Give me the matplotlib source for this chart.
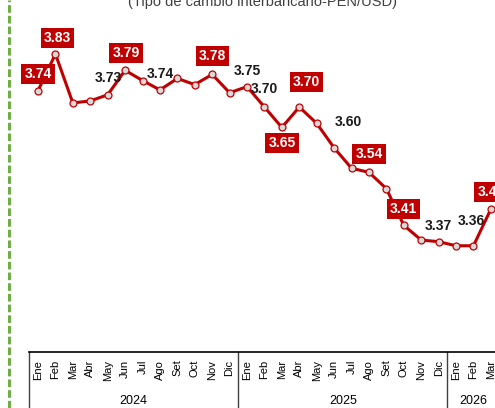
import matplotlib
matplotlib.use("Agg")
import matplotlib.pyplot as plt
from matplotlib.lines import Line2D
from matplotlib.transforms import offset_copy

plt.rcParams['font.family'] = ['Liberation Sans', 'DejaVu Sans']

# Datos (tipo de cambio mensual)
meses = ['Ene', 'Feb', 'Mar', 'Abr', 'May', 'Jun', 'Jul', 'Ago', 'Set', 'Oct', 'Nov', 'Dic',
         'Ene', 'Feb', 'Mar', 'Abr', 'May', 'Jun', 'Jul', 'Ago', 'Set', 'Oct', 'Nov', 'Dic',
         'Ene', 'Feb', 'Mar']
anios = ['2024', '2025', '2026']
meses_por_anio = [12, 12, 3]
tc = [3.74, 3.83, 3.71, 3.715, 3.73, 3.79, 3.765, 3.742, 3.77, 3.755, 3.78, 3.735,
      3.75, 3.70, 3.65, 3.70, 3.66, 3.60, 3.55, 3.54, 3.50, 3.41, 3.374, 3.37,
      3.36, 3.36, 3.45]

# etiquetas: indice -> (recuadro rojo?, dx px, dy px)
etiquetas = {0: (True, 0, 17), 1: (True, 2, 16), 4: (False, 1, 17), 5: (True, 1, 17),
             7: (False, 0, 16), 10: (True, 0, 18), 12: (False, 0, 16), 13: (False, 0, 18),
             14: (True, 0, -16), 15: (True, 7, 25), 17: (False, 14, 26), 19: (True, 0, 18),
             21: (True, 0, 16), 23: (False, 0, 16), 25: (False, -2, 25), 26: (True, 0, 17)}

W, H = 495, 408
fig = plt.figure(figsize=(W / 100, H / 100), dpi=100)
left = 29.3
right = 499.6
ax = fig.add_axes([left / W, 56 / H, (right - left) / W, 352 / H])

k = 408.0
ax.set_ylim(3.83 - (352 - 54) / k, 3.83 + 54 / k)
ax.set_xlim(-0.5, len(tc) - 0.5)

x = list(range(len(tc)))
ax.plot(x, tc, color='#C00000', lw=2.2, marker='o', markersize=5,
        markerfacecolor='#D9D9D9', markeredgecolor='#C00000', markeredgewidth=0.9,
        clip_on=False, zorder=3)

for i, (roja, dx, dy) in etiquetas.items():
    px = 0.72
    if roja:
        ax.annotate(f"{tc[i]:.2f}", (i, tc[i]), xytext=(dx * px, dy * px),
                    textcoords='offset points', ha='center', va='center',
                    fontsize=10, fontweight='bold', color='white', zorder=5,
                    annotation_clip=False,
                    bbox=dict(boxstyle='square,pad=0.22', fc='#C00000', ec='none'))
    else:
        ax.annotate(f"{tc[i]:.2f}", (i, tc[i]), xytext=(dx * px, dy * px),
                    textcoords='offset points', ha='center', va='center',
                    fontsize=10, fontweight='bold', color='#1a1a1a', zorder=5,
                    annotation_clip=False)

for s in ['top', 'left', 'right']:
    ax.spines[s].set_visible(False)
ax.spines['bottom'].set_color('#000000')
ax.spines['bottom'].set_linewidth(1.2)
ax.set_yticks([])
ax.set_xticks(x)
ax.set_xticklabels(meses, rotation=90, fontsize=8, color='#000000')
ax.tick_params(axis='x', length=0, pad=5.5)

# anios y separadores
tr = ax.get_xaxis_transform()
inicio = 0
for anio, n in zip(anios, meses_por_anio):
    ax.plot([inicio - 0.5, inicio - 0.5], [0, -60 / 352], transform=tr, color='#404040',
            lw=1, clip_on=False)
    t = offset_copy(tr, fig=fig, y=-49, units='dots')
    ax.text(inicio + (n - 1) / 2 if n == 12 else inicio + 1, 0, anio, transform=t,
            ha='center', va='center', fontsize=9, color='#000000')
    inicio += n

# linea verde punteada
fig.add_artist(Line2D([9.3 / W, 9.3 / W], [0, 1], transform=fig.transFigure,
                      color='#70AD47', lw=2.2, linestyle=(0, (2.5, 1.0))))

fig.text(262 / W, (H - 6) / H, '(Tipo de cambio interbancario-PEN/USD)',
         ha='center', va='baseline', fontsize=10.5, color='#404040')

fig.savefig('out.png', dpi=100)
